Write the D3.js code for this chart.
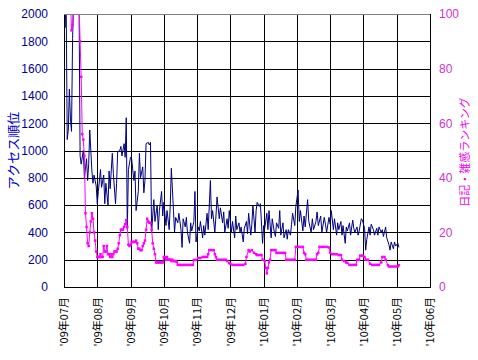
<!DOCTYPE html>
<html>
<head>
<meta charset="utf-8">
<script src="https://cdn.jsdelivr.net/npm/d3@7"></script>
<style>
  body { margin: 0; background: #fff; }
  svg { display: block; }
</style>
</head>
<body>
<div class="chart-area"></div>
<script>
// daily data, day 0 = 2009-07-01
const startDate = new Date(2009, 6, 1);
const leftTicks = [0, 200, 400, 600, 800, 1000, 1200, 1400, 1600, 1800, 2000];
const rightTicks = [0, 20, 40, 60, 80, 100];

// アクセス順位 [day, rank]
const accessRank = [[0,2100],[1,1900],[2,2100],[3,1080],[4,1150],[5,1450],[6,1230],[7,1140],[8,1820],[9,2100],[10,2100],[11,2100],[12,2100],[13,2100],[14,2100],[15,960],
[16,900],[18,1000],[19,800],[21,940],[22,780],[23,900],[24,1150],[26,850],[27,760],[28,820],[30,740],[31,610],[32,700],[34,860],[35,730],[37,820],[38,610],[39,760],[41,600],[42,850],[43,720],[45,980],[46,830],[48,610],[49,760],[50,990],[52,1000],[53,1030],[54,960],[56,1050],[57,950],[58,1240],[59,420],[60,860],[62,950],[63,940],[65,780],[66,850],[67,560],[69,700],[70,980],[71,800],[73,880],[74,690],[75,780],[76,1050],[78,1060],[79,1040],[80,1060],[81,400],[83,640],[84,480],[86,600],[87,420],[88,560],[90,700],[91,520],[92,620],[94,450],[95,560],[97,420],[98,600],[99,870],[101,560],[102,400],[103,510],[105,470],[106,540],[108,420],[109,290],[110,500],[112,440],[113,510],[114,400],[116,320],[117,470],[118,410],[120,480],[121,700],[122,330],[124,440],[125,410],[126,480],[128,360],[129,450],[130,380],[132,540],[133,420],[135,780],[136,500],[137,560],[139,400],[140,520],[141,660],[143,500],[144,580],[146,470],[147,550],[148,400],[150,500],[151,430],[152,560],[154,400],[155,480],[157,360],[158,520],[159,420],[161,470],[162,400],[163,440],[165,330],[166,430],[168,480],[169,390],[170,540],[172,380],[173,460],[174,600],[176,400],[177,560],[178,620],[180,590],[181,610],[183,320],[184,450],[185,430],[187,540],[188,420],[189,560],[191,360],[192,500],[194,400],[195,370],[196,470],[198,430],[199,560],[200,380],[202,470],[203,360],[205,420],[206,350],[207,420],[209,380],[210,460],[211,540],[213,450],[214,590],[216,710],[217,480],[218,560],[220,410],[221,520],[222,440],[224,640],[225,480],[227,400],[228,500],[229,420],[231,480],[232,550],[233,450],[235,520],[236,400],[238,510],[239,460],[240,400],[242,510],[243,460],[244,560],[246,420],[247,500],[249,380],[250,470],[251,420],[253,480],[254,380],[255,450],[257,320],[258,440],[259,410],[261,470],[262,380],[264,490],[265,430],[266,400],[268,440],[269,380],[270,410],[272,500],[273,490],[275,430],[276,270],[277,350],[279,440],[280,380],[281,460],[283,420],[284,380],[286,430],[287,380],[288,440],[290,400],[291,420],[292,370],[294,440],[295,360],[297,310],[298,270],[299,330],[301,280],[302,330],[303,300],[305,320],[306,290]];

// 日記・雑感ランキング [day, rank]
const diaryRank = [[6,106],[7,94],[8,96],[9,106],[11,106],[13,106],[14,104],[15,90],[16,77],[17,56],[18,54],[19,48],[20,27],[21,22],[22,16],[23,15],[24,20],[25,24],[26,27],[27,25],[28,20],[29,17],[30,13],[31,11],[32,11],[33,11],[34,12],[35,11],[36,11],[37,15],[38,13],[39,13],[40,15],[41,12],[42,12],[43,11],[44,12],[45,11],[46,12],[47,13],[48,13],[49,13],[50,14],[51,16],[52,19],[53,21],[54,21],[55,21],[56,22],[57,23],[58,24.5],[59,22],[60,15.5],[61,15],[62,15.5],[63,16.5],[64,16.5],[65,16.5],[66,16.5],[67,17],[68,16],[69,14],[70,14],[71,13.5],[72,13.5],[73,15],[74,16],[75,17],[76,21],[77,25],[78,24],[79,23.5],[80,23.5],[81,21],[82,16],[83,14],[84,12],[85,9],[86,9],[87,9],[88,9],[89,9],[90,9],[91,9],[92,11],[93,11],[94,10],[95,11],[96,10],[97,10],[98,10],[99,9.5],[100,10],[101,9.5],[102,9.5],[103,9.5],[104,9.2],[105,8.1],[107,8.1],[109,8.1],[111,8.1],[113,8.1],[115,8.1],[117,8.1],[119,8.1],[120,9.9],[122,9.9],[124,10.6],[126,10.6],[128,11],[130,11],[132,11],[133,12],[134,13.5],[136,13.5],[138,13.5],[139,12],[140,11],[141,10],[143,10],[145,10],[147,10],[149,10],[150,9.5],[152,8.8],[153,8.5],[155,8.1],[157,8.1],[159,8.1],[161,8.1],[163,8.1],[165,8.1],[167,8.5],[168,11],[170,13.5],[171,13],[173,13.5],[175,12.5],[177,12],[178,11.7],[180,11.7],[182,11.7],[183,10],[185,9.5],[186,7],[187,5],[188,7],[189,9],[190,10],[191,13.5],[193,13.5],[195,13.5],[196,12.5],[198,12.5],[200,12.5],[202,12.5],[204,12.5],[205,10],[207,10],[209,10],[211,10],[213,10],[214,14.7],[216,14.7],[218,14.7],[220,14.7],[221,12.5],[222,12],[223,10],[225,10],[227,10],[229,10],[231,10],[232,12],[233,12.5],[234,14.7],[236,14.7],[238,14.7],[240,14.7],[242,14.5],[243,12.5],[245,12],[247,12],[249,12],[251,11.7],[253,11.7],[254,10],[256,9.5],[258,9],[259,8.8],[261,8.1],[263,8.1],[265,8.1],[267,8.1],[268,10],[270,10],[271,11.5],[273,11.5],[275,11],[276,10],[278,10],[280,8.5],[282,8.1],[284,8.1],[286,8.1],[288,8.1],[290,9],[291,11],[293,11],[294,10],[296,8],[297,7.5],[299,7.5],[301,7.5],[303,7.5],[305,7.5],[306,8]];

let outerWidth = 478, outerHeight = 360;
let plot = {left: 64, right: 430, top: 14, bottom: 287};

let svg = d3.select('.chart-area').append('svg')
    .attr('width', outerWidth)
    .attr('height', outerHeight);

// months Jul 2009 .. Jun 2010, spaced evenly
let months = d3.timeMonth.range(startDate, new Date(2010, 5, 2));
let monthDays = months.map(m => d3.timeDay.count(startDate, m));
monthDays.push(d3.timeDay.count(startDate, new Date(2010, 6, 1)));
let fmt = d3.timeFormat("'%y年%m月");

let xScale = d3.scaleLinear().domain([0, months.length - 1]).range([plot.left, plot.right]);
let yLeft = d3.scaleLinear().domain([0, 2000]).range([plot.bottom, plot.top]);
let yRight = d3.scaleLinear().domain([0, 100]).range([plot.bottom, plot.top]);

function monthPos(day) {
    let i = d3.bisectRight(monthDays, day) - 1;
    i = Math.max(0, Math.min(i, monthDays.length - 2));
    return i + (day - monthDays[i]) / (monthDays[i + 1] - monthDays[i]);
}
let xDay = day => xScale(monthPos(day));

// grid
let grid = svg.append('g').attr('shape-rendering', 'crispEdges');
grid.selectAll('line.h')
    .data(leftTicks)
    .enter().append('line')
    .attr('x1', plot.left).attr('x2', plot.right)
    .attr('y1', d => Math.round(yLeft(d)) + 0.5).attr('y2', d => Math.round(yLeft(d)) + 0.5)
    .attr('stroke', d => d === 2000 ? '#808080' : '#000');
grid.selectAll('line.v')
    .data(d3.range(months.length))
    .enter().append('line')
    .attr('x1', d => Math.round(xScale(d)) + 0.5).attr('x2', d => Math.round(xScale(d)) + 0.5)
    .attr('y1', plot.top).attr('y2', plot.bottom + 1)
    .attr('stroke', '#000');

svg.append('clipPath').attr('id', 'clip')
    .append('rect')
    .attr('x', plot.left).attr('y', plot.top)
    .attr('width', plot.right - plot.left).attr('height', plot.bottom - plot.top);

let marks = svg.append('g').attr('clip-path', 'url(#clip)');

let blueLine = d3.line().x(d => xDay(d[0])).y(d => yLeft(d[1]));
marks.append('path')
    .datum(accessRank)
    .attr('fill', 'none')
    .attr('stroke', '#000080')
    .attr('stroke-width', 1)
    .attr('d', blueLine);

let pinkLine = d3.line().x(d => xDay(d[0])).y(d => yRight(d[1]));
marks.append('path')
    .datum(diaryRank)
    .attr('fill', 'none')
    .attr('stroke', '#ff00ff')
    .attr('stroke-width', 1)
    .attr('d', pinkLine);

marks.selectAll('rect.mk')
    .data(diaryRank)
    .enter().append('rect')
    .attr('x', d => xDay(d[0]) - 1.25)
    .attr('y', d => yRight(d[1]) - 1.25)
    .attr('width', 2.5).attr('height', 2.5)
    .attr('fill', '#ff00ff');

// axes
let yAxisL = d3.axisLeft(yLeft).tickValues(leftTicks).tickFormat(d3.format('d')).tickSize(0).tickPadding(16);
let yAxisR = d3.axisRight(yRight).tickValues(rightTicks).tickFormat(d3.format('d')).tickSize(0).tickPadding(9);
let xAxis = d3.axisBottom(xScale).tickValues(d3.range(months.length))
    .tickFormat(i => fmt(months[i])).tickSize(0);

let ga = svg.append('g')
    .attr('transform', `translate(${plot.left},0)`)
    .call(yAxisL);
ga.select('.domain').remove();
ga.selectAll('text')
    .attr('fill', '#000090')
    .attr('font-family', '"Liberation Sans", Arial, sans-serif')
    .attr('font-size', 12);

let gb = svg.append('g')
    .attr('transform', `translate(${plot.right},0)`)
    .call(yAxisR);
gb.select('.domain').remove();
gb.selectAll('text')
    .attr('fill', '#cc33cc')
    .attr('font-family', '"Liberation Sans", Arial, sans-serif')
    .attr('font-size', 12);

let gx = svg.append('g')
    .attr('transform', `translate(0,${plot.bottom})`)
    .call(xAxis);
gx.select('.domain').remove();
gx.selectAll('text')
    .attr('transform', 'rotate(-90)')
    .attr('x', -10).attr('y', 0).attr('dy', '0.35em')
    .attr('text-anchor', 'end')
    .attr('fill', '#000')
    .attr('font-family', '"Noto Sans CJK JP", sans-serif')
    .attr('font-size', 11);

// borders
let border = svg.append('g').attr('shape-rendering', 'crispEdges').attr('stroke', '#000');
border.append('line')
    .attr('x1', plot.left).attr('x2', plot.right + 1)
    .attr('y1', plot.bottom + 0.5).attr('y2', plot.bottom + 0.5);
border.append('line')
    .attr('x1', plot.left + 0.5).attr('x2', plot.left + 0.5)
    .attr('y1', plot.top).attr('y2', plot.bottom);
border.append('line')
    .attr('x1', Math.round(plot.right) + 0.5).attr('x2', Math.round(plot.right) + 0.5)
    .attr('y1', plot.top).attr('y2', plot.bottom);
svg.append('line')
    .attr('shape-rendering', 'crispEdges')
    .attr('x1', plot.left).attr('x2', plot.right)
    .attr('y1', plot.top + 0.5).attr('y2', plot.top + 0.5)
    .attr('stroke', '#808080');

// axis titles
svg.append('text')
    .attr('transform', `translate(18,${(plot.top + plot.bottom) / 2}) rotate(-90)`)
    .attr('text-anchor', 'middle')
    .attr('fill', '#0000cc')
    .attr('font-family', '"Noto Sans CJK JP", sans-serif')
    .attr('font-size', 13)
    .text('アクセス順位');

svg.append('text')
    .attr('transform', `translate(465,152) rotate(-90)`)
    .attr('text-anchor', 'middle')
    .attr('dy', '0.35em')
    .attr('fill', '#ee00ee')
    .attr('font-family', '"Noto Sans CJK JP", sans-serif')
    .attr('font-size', 11)
    .text('日記・雑感ランキング');
</script>
</body>
</html>
